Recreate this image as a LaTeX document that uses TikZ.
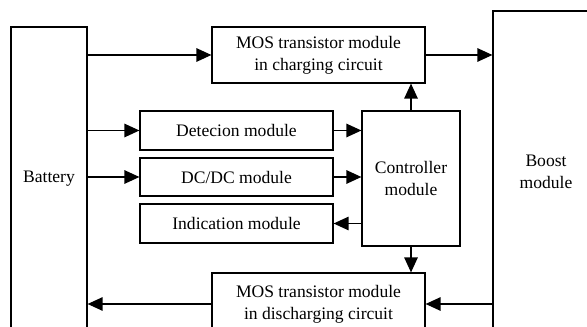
\documentclass[tikz,border=0pt]{standalone}
\usepackage{fontspec}
\setmainfont{Liberation Serif}
\usetikzlibrary{arrows.meta,calc}

\tikzset{
  blk/.style={draw,line width=0.7pt,align=center,inner sep=0pt,
    font=\fontsize{10}{12.5}\selectfont},
  flow/.style={line width=0.7pt,-{Triangle[length=0.3cm,width=0.27cm]}}
}

\begin{document}
\begin{tikzpicture}[x=0.02cm,y=-0.02cm]
\useasboundingbox (0,0) rectangle (587,327);
\clip (0,0) rectangle (587,327);
\node[blk,minimum width=1.52cm,minimum height=6.08cm] (bat) at (49,179) {Battery};
\node[blk,minimum width=2.12cm,minimum height=6.44cm] (boost) at (546,172) {Boost\\module};
\node[blk,minimum width=4.26cm,minimum height=1.12cm] (mosc) at (318.5,55) {MOS transistor module\\in charging circuit};
\node[blk,minimum width=3.86cm,minimum height=0.78cm] (det) at (236.5,130.5) {Detecion module};
\node[blk,minimum width=3.86cm,minimum height=0.76cm] (dcdc) at (236.5,177) {DC/DC module};
\node[blk,minimum width=3.86cm,minimum height=0.78cm] (ind) at (236.5,223.5) {Indication module};
\node[blk,minimum width=1.96cm,minimum height=2.7cm] (ctrl) at (411,178.5) {Controller\\module};
\node[blk,minimum width=4.26cm,minimum height=1.24cm] (mosd) at (318.5,304) {MOS transistor module\\in discharging circuit};
\draw[flow] (bat.east |- mosc.west) -- (mosc.west);
\draw[flow] (mosc.east) -- (boost.west |- mosc.east);
\draw[flow] (bat.east |- det.west) -- (det.west);
\draw[flow] (bat.east |- dcdc.west) -- (dcdc.west);
\draw[flow] (det.east) -- (ctrl.west |- det.east);
\draw[flow] (dcdc.east) -- (ctrl.west |- dcdc.east);
\draw[flow] (ctrl.west |- ind.east) -- (ind.east);
\draw[flow] (ctrl.north) -- (ctrl.north |- mosc.south);
\draw[flow] (ctrl.south) -- (ctrl.south |- mosd.north);
\draw[flow] (boost.west |- mosd.east) -- (mosd.east);
\draw[flow] (mosd.west) -- (bat.east |- mosd.west);
\end{tikzpicture}
\end{document}
